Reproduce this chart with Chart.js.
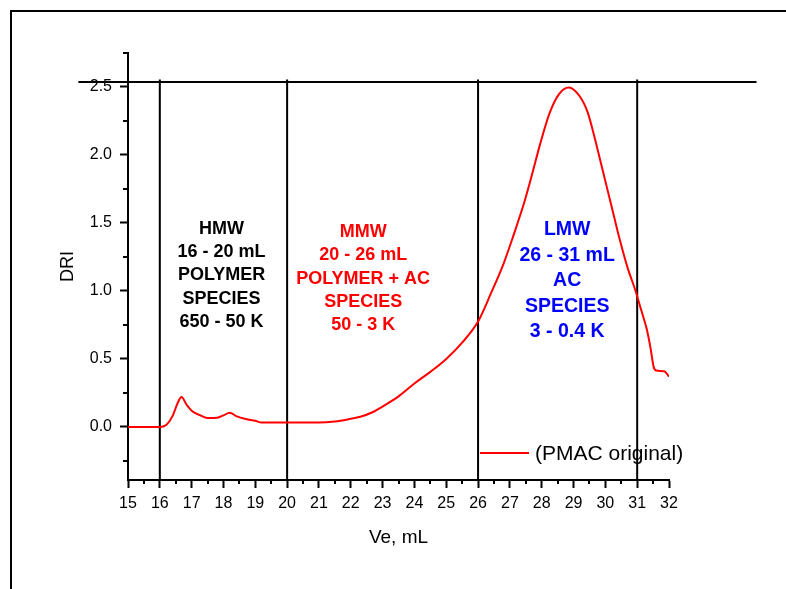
<!DOCTYPE html>
<html>
<head>
<meta charset="utf-8">
<title>DRI vs Ve</title>
<script src="https://cdn.jsdelivr.net/npm/chart.js@4/dist/chart.umd.min.js"></script>
<style>
  html, body { margin: 0; padding: 0; background: #fff; }
  canvas { display: block; }
</style>
</head>
<body>
<canvas id="driChart" width="786" height="589"></canvas>
<script>
// elution volume (mL) and detector response
const veValues = [15, 16, 16.2, 16.4, 16.55, 16.68, 16.85, 17.0, 17.25, 17.5, 17.8, 18.0, 18.2, 18.4, 18.7, 19.0, 19.2,
  20, 21, 21.5, 21.9, 22.3, 22.7, 23.0, 23.5, 24.0, 24.5, 25.0, 25.5, 26.0, 26.4, 26.8, 27.1, 27.45, 27.7, 27.95,
  28.25, 28.55, 28.85, 29.2, 29.45, 29.65, 29.85, 30.05, 30.25, 30.45, 30.7, 30.95, 31.1, 31.3, 31.42, 31.52, 31.6, 31.85, 32.0];
const driValues = [0, 0, 0.015, 0.08, 0.17, 0.22, 0.16, 0.12, 0.088, 0.066, 0.068, 0.085, 0.105, 0.08, 0.058, 0.045, 0.032,
  0.032, 0.032, 0.04, 0.055, 0.075, 0.11, 0.15, 0.225, 0.32, 0.405, 0.5, 0.62, 0.775, 0.98, 1.2, 1.4, 1.65, 1.86, 2.08,
  2.31, 2.45, 2.497, 2.43, 2.31, 2.14, 1.95, 1.76, 1.57, 1.38, 1.17, 1.0, 0.88, 0.72, 0.58, 0.44, 0.415, 0.41, 0.37];

// fraction cut points (mL) and the top rule
const cutVolumes = [16, 20, 26, 31];
const cutTopDri = 2.555;
const topRuleDri = 2.537;
const topRuleVe = [13.44, 34.75];

const xTickValues = [15, 16, 17, 18, 19, 20, 21, 22, 23, 24, 25, 26, 27, 28, 29, 30, 31, 32];
const xMinorTickValues = [15.5, 16.5, 17.5, 18.5, 19.5, 20.5, 21.5, 22.5, 23.5, 24.5, 25.5, 26.5, 27.5, 28.5, 29.5, 30.5, 31.5];
const yTickValues = [0, 0.5, 1.0, 1.5, 2.0, 2.5];
const yMinorTickValues = [-0.25, 0.25, 0.75, 1.25, 1.75, 2.25, 2.75];

const seriesLabel = '(PMAC original)';
const hmwLines = ['HMW', '16 - 20 mL', 'POLYMER', 'SPECIES', '650 - 50 K'];
const mmwLines = ['MMW', '20 - 26 mL', 'POLYMER + AC', 'SPECIES', '50 - 3 K'];
const lmwLines = ['LMW', '26 - 31 mL', 'AC', 'SPECIES', '3 - 0.4 K'];

const FONT = '"Liberation Sans", Arial, sans-serif';

/**
 * Outer frame, minor ticks, region notes and the legend
 */
const decorPlugin = {
  id: 'decor',
  beforeDraw(chart) {
    const ctx = chart.ctx;
    ctx.save();
    ctx.fillStyle = '#fff';
    ctx.fillRect(0, 0, chart.width, chart.height);
    ctx.strokeStyle = '#000';
    ctx.lineWidth = 2;
    ctx.beginPath();
    ctx.moveTo(11, chart.height);
    ctx.lineTo(11, 11);
    ctx.lineTo(chart.width, 11);
    ctx.stroke();
    ctx.restore();
  },
  afterDraw(chart) {
    const ctx = chart.ctx;
    const x = chart.scales.x;
    const y = chart.scales.y;
    const area = chart.chartArea;
    ctx.save();

    // minor ticks
    ctx.strokeStyle = '#000';
    ctx.lineWidth = 2;
    ctx.beginPath();
    xMinorTickValues.forEach(v => {
      const px = Math.round(x.getPixelForValue(v));
      ctx.moveTo(px, area.bottom);
      ctx.lineTo(px, area.bottom + 4);
    });
    yMinorTickValues.forEach(v => {
      const py = Math.round(y.getPixelForValue(v));
      ctx.moveTo(area.left, py);
      ctx.lineTo(area.left - 5, py);
    });
    ctx.stroke();

    // region notes
    ctx.textAlign = 'center';
    ctx.textBaseline = 'middle';
    const drawNote = (lines, ve, top, step, color, size) => {
      ctx.fillStyle = color;
      ctx.font = 'bold ' + size + 'px ' + FONT;
      lines.forEach((t, i) => ctx.fillText(t, x.getPixelForValue(ve), top + i * step));
    };
    drawNote(hmwLines, 17.94, 229, 23.2, '#000', 18);
    drawNote(mmwLines, 22.39, 232, 23.3, '#ff0000', 18);
    drawNote(lmwLines, 28.8, 230, 25.5, '#0000ff', 19.5);

    // legend
    const ds = chart.data.datasets[0];
    ctx.strokeStyle = ds.borderColor;
    ctx.lineWidth = 2;
    ctx.beginPath();
    ctx.moveTo(480, 453);
    ctx.lineTo(529, 453);
    ctx.stroke();
    ctx.fillStyle = '#000';
    ctx.font = '21px ' + FONT;
    ctx.textAlign = 'left';
    ctx.fillText(ds.label, 535, 454);

    ctx.restore();
  }
};

document.addEventListener('DOMContentLoaded', function() {
    const curve = veValues.map((v, i) => ({ x: v, y: driValues[i] }));

    const cutLines = cutVolumes.map(v => ({
        data: [{ x: v, y: -0.39 }, { x: v, y: cutTopDri }],
        borderColor: '#000',
        borderWidth: 2,
        pointRadius: 0,
        clip: false
    }));

    const topRule = {
        data: topRuleVe.map(v => ({ x: v, y: topRuleDri })),
        borderColor: '#000',
        borderWidth: 2,
        pointRadius: 0,
        clip: false
    };

    const tickStyle = {
        color: '#000',
        font: { family: FONT, size: 16 }
    };

    new Chart(document.getElementById('driChart'), {
        type: 'line',
        data: {
            datasets: [{
                label: seriesLabel,
                data: curve,
                borderColor: '#ff0000',
                borderWidth: 2,
                pointRadius: 0,
                cubicInterpolationMode: 'monotone'
            }, ...cutLines, topRule]
        },
        options: {
            responsive: false,
            animation: false,
            devicePixelRatio: 1,
            layout: { padding: { left: 0, right: 117, top: 53, bottom: 0 } },
            plugins: {
                legend: { display: false },
                tooltip: { enabled: false }
            },
            scales: {
                x: {
                    type: 'linear',
                    min: 15,
                    max: 32,
                    afterBuildTicks: scale => { scale.ticks = xTickValues.map(v => ({ value: v })); },
                    afterFit: scale => { scale.height = 109; },
                    ticks: Object.assign({ padding: 6, maxRotation: 0, autoSkip: false }, tickStyle),
                    grid: { drawOnChartArea: false, drawTicks: true, tickLength: 8, tickWidth: 2, tickColor: '#000' },
                    border: { display: true, color: '#000', width: 2 },
                    title: {
                        display: true,
                        text: 'Ve, mL',
                        color: '#000',
                        font: { family: FONT, size: 19 },
                        padding: { top: 0, bottom: 40 }
                    }
                },
                y: {
                    type: 'linear',
                    min: -0.39,
                    max: 2.75,
                    afterBuildTicks: scale => { scale.ticks = yTickValues.map(v => ({ value: v })); },
                    afterFit: scale => { scale.width = 128; },
                    ticks: Object.assign({ padding: 8, callback: v => v.toFixed(1) }, tickStyle),
                    grid: { drawOnChartArea: false, drawTicks: true, tickLength: 8, tickWidth: 2, tickColor: '#000' },
                    border: { display: true, color: '#000', width: 2 },
                    title: {
                        display: true,
                        text: 'DRI',
                        color: '#000',
                        font: { family: FONT, size: 18 },
                        padding: { top: 57, bottom: 0 }
                    }
                }
            }
        },
        plugins: [decorPlugin]
    });
});
</script>
</body>
</html>
